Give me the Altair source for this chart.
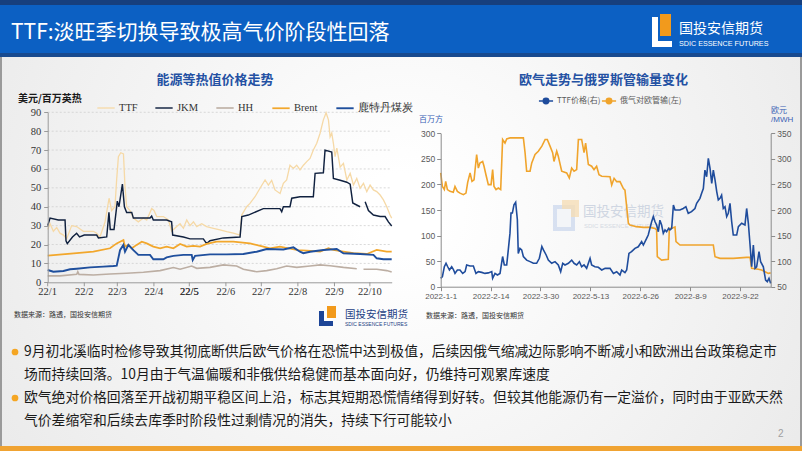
import altair as alt
import pandas as pd

W, H = 802, 451
BASE = pd.Timestamp("2022-01-01")
CJK = "Noto Sans CJK SC"
SERIF = "Liberation Serif"
SANS = "Liberation Sans"

# ---------------- left chart: 能源等热值价格走势 (USD/MMBtu), x = days since 2022-01-01
ttf_day = [0, 2, 4.8, 7.6, 10.4, 13.3, 16.1, 20.3, 24.5, 30.2, 38.7, 41.5, 44.3, 48.6, 52, 54.2, 57, 58.5,
           59.9, 61.9, 64.2, 65.5, 66.9, 69.7, 72.6, 76.8, 81.1, 83.9, 88.1, 90.1, 92.4, 98, 102.3, 105.1,
           109.3, 112.2, 115, 117.8, 120.6, 123.5, 126.3, 130.5, 134.7, 140.4, 146, 151.7, 157.3, 163,
           164.4, 168.6, 171.4, 175.7, 179.9, 184.2, 187, 189.8, 192.6, 196.9, 199.7, 202.5, 205.3, 208.2,
           211, 213.8, 216.7, 219.5, 222.3, 225.1, 228, 230.8, 233.6, 235.9, 237.9, 239.3, 240.7, 242.1,
           243.5, 245, 247.8, 250.6, 253.5, 256.3, 259.1, 261.9, 264.7, 267.6, 270.4, 273.2, 276, 278.8,
           281.7, 284.5, 287.3, 290.1, 291.5]
ttf_val = [28, 31, 27, 29, 26, 25, 23, 30, 29.5, 27, 27, 26, 24, 32, 44.5, 38, 40, 55,
           66.5, 68.6, 68, 50.6, 40, 38, 34, 32, 34, 33, 39, 38, 34.8, 34.8, 33, 27,
           29.5, 31, 28.6, 33, 30, 32, 29.5, 31, 29.5, 28.6, 27.7, 26.8, 26, 25,
           35.6, 40, 41.8, 45.3, 49.8, 54.2, 51.5, 54, 48.9, 47, 52.4, 54.2, 62, 60.3,
           62, 59.5, 62, 63.9, 65.6, 70, 73.6, 78.9, 86, 89.8, 86, 77, 79, 73.6,
           66.5, 71, 61, 63, 54.2, 57.7, 51.5, 55, 49.8, 52.4, 48, 51.5, 48.9, 48,
           46.2, 43.6, 40, 35.6, 34]

jkm_day = [0, 2, 9, 14.7, 15.5, 16.6, 21, 24.5, 27, 31, 41.5, 43, 50, 51.9, 53, 56.2, 59, 60.4, 63.3,
           65, 66.9, 71.2, 72.6, 86.7, 88.1, 89.5, 100.8, 105, 105.9, 115, 120.6, 131.9, 134.7, 137.5,
           148.8, 163, 164.5, 170, 182.7, 196.8, 198.3, 199.7, 205.3, 206.8, 213.8, 225.1, 226.6, 233.6,
           235, 240.7, 242.1, 247.8, 253.5, 256.3, 258.5, 264.7,
           269, 271.8, 276, 281.7, 285.9, 288.7, 291.5]
jkm_val = [30, 34, 33, 33, 22, 20.5, 24, 26, 24, 25, 25, 23.5, 24, 37, 28, 28, 43, 40, 52,
           40, 37, 37, 34, 34, 35, 33, 33, 32, 25, 24, 23, 23, 20.5, 22,
           23.5, 24, 34.8, 35.6, 39, 39, 37.4, 40, 40, 44.5, 45.3, 45.3, 57.7, 58,
           70, 69, 55, 54, 53, 52, 42, 40,
           42.7, 38, 35.6, 34.8, 34.8, 32, 29.8]
jkm_seg = [0] * 56 + [1] * 7

hh_day = [0, 10.4, 24.6, 25.5, 26.5, 38.7, 52.8, 66.9, 81.1, 95.2, 106.5, 112.2, 122, 126.3, 137.5,
          148.8, 160.1, 165.8, 177.1, 185.6, 194, 202.5, 211, 222.3, 230.8, 239.3, 250.6, 261.9,
          267.6, 278.8, 287.3, 291.5]
hh_val = [3.4, 3.4, 4.2, 5.6, 4.2, 3.9, 4.4, 4.8, 5.3, 6.2, 7.8, 6.9, 8.6, 7.4, 7.9,
          9.2, 8.6, 6.9, 5.6, 6.2, 7.2, 8.6, 7.9, 8.6, 9.2, 8.8, 7.9, 7.2,
          6.9, 6.9, 6.2, 5.5]
hh_seg = [0] * 28 + [1] * 4

brent_day = [0, 24.5, 38.7, 52.8, 58.5, 64.2, 65.5, 68.4, 71.2, 75.4, 79.7, 83.9, 89.5, 95.2, 100.8,
             106.5, 112.2, 117.8, 123.5, 129.1, 134.7, 143.2, 157.3, 171.4, 182.7, 188.4, 196.8, 211,
             219.5, 230.8, 237.9, 242.1, 250.6, 259.1, 270.4, 278.8, 287.3, 291.5]
brent_val = [14.1, 15.4, 16.2, 18, 20.6, 22.4, 18.9, 19.8, 18, 19.8, 21.5, 20.6, 18.9, 18, 18.9,
             18, 20.3, 18.9, 19.3, 18.9, 20.3, 21.5, 21.5, 20.6, 18.9, 18, 18.9, 17.1,
             16.8, 16.2, 18, 17.1, 16.2, 15.4, 15, 17.1, 16.2, 16.2]

coal_day = [0, 4.8, 13.3, 19, 24.6, 35.9, 47.2, 55.7, 58.5, 61.3, 64.1, 65.5, 68.4, 72.6, 76.8, 86.7,
            89.5, 98, 100.8, 106.5, 115, 122, 122.9, 124.9, 137.5, 151.7, 165.8, 177.1, 185.6, 199.7,
            208.2, 213.8, 216.6, 222.3, 233.6, 244.9, 250.6, 264.7, 276, 278.8, 284.5, 291.5]
coal_val = [6.5, 5.6, 6, 6.9, 7.2, 7.9, 8.3, 8.6, 8.8, 17, 19.8, 16.2, 19.8, 17, 14.5, 14.5,
            12.2, 12.2, 13.2, 14, 14.5, 14.5, 11.8, 14, 14.8, 14.8, 15, 16.2, 17.6, 17.4,
            18.5, 16.2, 15.4, 16.2, 17.1, 17.6, 15.4, 15, 14.5, 12.7, 12.2, 12.2]

left_names = ["TTF", "JKM", "HH", "Brent", "鹿特丹煤炭"]
left_colors = ["#f6d9a6", "#10213f", "#bcaea3", "#f2a72c", "#1f4f9d"]
left_widths = [1.3, 1.9, 1.4, 1.9, 1.9]
left_ticks = [0, 10, 20, 30, 40, 50, 60, 70, 80, 90]
left_x_labels = ["22/1", "22/2", "22/3", "22/4", "22/5", "22/6", "22/7", "22/8", "22/9", "22/10"]
left_x_label_day = [0, 31, 59, 90, 120, 151, 181, 212, 243, 273]

# ---------------- right chart: 欧气走势与俄罗斯管输量变化
pipe_day = [0, 1.5, 3.2, 4.4, 5.9, 8.2, 11.1, 12.6, 14.7, 17, 20, 22.3, 23.8, 25.9, 27.6, 29.4, 31.7,
            33.2, 34.6, 37, 38.2, 39.9, 42, 44.4, 45.8, 47, 48.8, 50.8, 52.9, 54.6, 56.7, 58.2, 61.1,
            72.9, 74.4, 75.8, 78.8, 80.3, 83.2, 86.1, 89.2, 92.1, 94, 96.4, 98.7, 99.9, 102.3, 103.7,
            106.7, 111.1, 113.4, 115.5, 117.6, 119.9, 121.4, 124.3, 126.4, 127.8, 130.2, 133.1, 135.2,
            137.5, 139.6, 142, 149.3, 150.8, 152.9, 155.2, 158.1, 161.1, 162.5, 165.5, 166.9, 172.8,
            178.7, 184.5, 189, 190.4, 191, 194.8, 200.7, 201.6, 203.7, 206.6, 207.5, 211, 228.6, 240.4,
            241.9, 246.3, 258, 269.8, 272.8, 274.2, 280.1, 283, 286, 288.9, 291]
pipe_val = [222.5, 196, 190, 206, 190, 186.5, 184.6, 196, 186.5, 183, 180, 183, 204, 222.5, 206, 209, 258.5,
            232, 242, 245, 235.6, 219, 199.6, 199.6, 229, 196, 190, 193, 190, 288, 281, 289, 291,
            291, 262, 225.8, 225.8, 242, 258.5, 265, 275, 288, 288, 275, 262, 245, 265, 255,
            225.8, 222.5, 212.7, 232, 225.8, 229, 288, 288, 262, 281, 239, 235.6, 229,
            235.6, 219, 216, 215, 199, 212, 205.4, 205.4, 192, 189, 124, 120.7, 117.4,
            116, 116, 114, 111, 58.7, 52, 53.5, 114, 114, 117, 88, 81.5, 81.5, 81.5,
            58.7, 55.4, 55.4, 57.4, 57.4, 35.9, 34, 32.6, 29.3, 26, 27]

ttfe_day = [0, 1.5, 3.2, 4.7, 6.2, 7.7, 9.7, 11.1, 12.6, 14.7, 17, 19.4, 21.5, 22.9, 25.9, 28.8, 31.1,
            33.2, 36.2, 39, 42, 45, 45.8, 47.9, 50, 52.3, 54.6, 56.1, 58.2, 59.6, 61.1, 62, 63.2, 64.6,
            66.1, 67.6, 68.4, 69.9, 71.4, 72.9, 75.8, 78.8, 81.7, 84.6, 87, 89.2, 90.6, 93, 94.9, 97.9,
            100.8, 103.7, 105.8, 107.6, 109.6, 112.6, 115.5, 117.6, 119.9, 122.3, 124.3, 126.4, 128.7,
            131.7, 133.1, 136, 139, 142, 145, 149.3, 152.3, 155.2, 158.1, 159.6, 162.5, 164, 166, 168.3,
            171.3, 174.2, 177.2, 178.7, 181.6, 183, 184.5, 186, 187.5, 189, 190.4, 191.9, 193.3, 194.8,
            196.3, 197.8, 199.2, 201, 202.2, 203.7, 205.2, 206.6, 210.9, 213.9, 216.2, 218.3, 221.2,
            224.2, 225.7, 228.6, 230.1, 231.6, 233, 234.5, 236, 237.5, 239, 240.4, 241.9, 243.4, 244.8,
            246.3, 247.7, 249.2, 250.7, 252.2, 253.6, 255.1, 256.6, 258, 261, 262.5, 265.4, 268.3,
            269.8, 271.3, 272.8, 274.2, 275.7, 277.2, 278.6, 280.7, 282.1, 284.5, 286.5, 288, 289.5, 291]
ttfe_val = [66.4, 69.6, 89, 95.8, 89, 82.7, 89, 84, 76, 82.7, 82.7, 76, 79.5, 92.5, 90.6, 90.6, 76,
            79.5, 78, 76, 77, 79.5, 66.4, 76, 73, 76, 109, 92.5, 92.5, 122, 154.7, 194, 194, 210,
            215, 181, 115, 125, 122, 109, 102, 99, 95.8, 95.8, 105.6, 128.5, 122, 112, 102, 95.8,
            99, 92.5, 79.5, 95.8, 92.5, 95.8, 102, 95.8, 92.5, 99, 89, 92.5, 86,
            105.6, 92.5, 89, 88, 82.7, 86, 85.9, 76, 79.3, 72.8, 82.6, 77.4, 82.6, 115, 118.5,
            125, 128, 138, 131.5, 144.6, 151, 164, 177, 187, 177, 170.7, 157.6, 180, 170.7,
            154.3, 161, 157.6, 164, 161, 164, 209.8, 200, 200, 203, 206.5, 193.5, 196.7,
            203, 213, 222.8, 232.6, 242, 278, 265, 301, 281.5, 252, 278, 258.7, 236, 219.6,
            222.8, 229, 203, 206.5, 187, 193.5, 213, 177, 151, 151, 167.4, 174, 170.7,
            203, 174, 131.5, 89, 131.5, 86, 89, 118.5, 99, 89, 63, 59.8, 66.3, 56.5]

right_x_ticks = [(1, 1), (2, 14), (3, 30), (5, 13), (6, 26), (8, 9), (9, 22)]
pipe_ticks = [0, 50, 100, 150, 200, 250, 300]
ttfe_ticks = [50, 100, 150, 200, 250, 300, 350]

bullet_lines = [
    "9月初北溪临时检修导致其彻底断供后欧气价格在恐慌中达到极值，后续因俄气缩减边际影响不断减小和欧洲出台政策稳定市",
    "场而持续回落。10月由于气温偏暖和非俄供给稳健而基本面向好，仍维持可观累库速度",
    "欧气绝对价格回落至开战初期平稳区间上沿，标志其短期恐慌情绪得到好转。但较其他能源仍有一定溢价，同时由于亚欧天然",
    "气价差缩窄和后续去库季时阶段性过剩情况的消失，持续下行可能较小",
]


def to_df(days, vals, name, seg=None):
    d = pd.DataFrame({"day": days, "value": vals})
    d["series"] = name
    d["seg"] = seg if seg is not None else 0
    d["date"] = BASE + pd.to_timedelta(d["day"], unit="D")
    return d.drop(columns="day")


left_df = pd.concat([
    to_df(ttf_day, ttf_val, "TTF"),
    to_df(jkm_day, jkm_val, "JKM", jkm_seg),
    to_df(hh_day, hh_val, "HH", hh_seg),
    to_df(brent_day, brent_val, "Brent"),
    to_df(coal_day, coal_val, "鹿特丹煤炭"),
], ignore_index=True)
left_df["key"] = left_df["series"] + "_" + left_df["seg"].astype(str)

pipe_df = to_df(pipe_day, pipe_val, "俄气对欧管输(左)")
ttfe_df = to_df(ttfe_day, ttfe_val, "TTF价格(右)")
grid_df = pd.DataFrame({"value": left_ticks[1:]})
left_xlab_df = pd.DataFrame({"day": left_x_label_day, "label": left_x_labels})

ONE = alt.Data(values=[{}])


def text(t, x, y, size, color, font=CJK, weight="normal", align="left", baseline="middle", **kw):
    return alt.Chart(ONE).mark_text(text=t, fontSize=size, color=color, font=font, fontWeight=weight,
                                    align=align, baseline=baseline, **kw).encode(
        x=alt.value(x), y=alt.value(y))


def rect(x1, y1, x2, y2, color, **kw):
    return alt.Chart(ONE).mark_rect(color=color, **kw).encode(
        x=alt.value(x1), x2=alt.value(x2), y=alt.value(y1), y2=alt.value(y2))


# ---------------- left chart scales
L_X0, L_X1, L_Y0, L_Y1 = 47.7, 391.7, 282.3, 112.3
L_DAYS = 291.5
lx_scale = alt.Scale(domain=[alt.DateTime(year=2022, month=1, date=1),
                             alt.DateTime(year=2022, month=10, date=19, hours=12)],
                     range=[L_X0, L_X1], nice=False)
lday_scale = alt.Scale(domain=[0, L_DAYS], range=[L_X0, L_X1], nice=False, zero=False)
ly_scale = alt.Scale(domain=[0, 90], range=[L_Y0, L_Y1], nice=False, zero=False)

left_grid = alt.Chart(grid_df).mark_rule(color="#cfcfcf", strokeDash=[2, 2], strokeWidth=0.8).encode(
    y=alt.Y("value:Q", scale=ly_scale, axis=None),
    x=alt.value(L_X0), x2=alt.value(L_X1))

left_xlabels = alt.Chart(left_xlab_df).mark_text(
    font=SERIF, fontSize=10.5, color="#333333", baseline="top", align="center").encode(
    x=alt.X("day:Q", scale=lday_scale, axis=None),
    y=alt.value(L_Y0 + 5),
    text="label:N")

# the May label is also drawn on its own, through the same day scale, in case the shared one is dropped
may_label = alt.Chart(left_xlab_df.iloc[[4]]).mark_text(
    font=SERIF, fontSize=10.5, color="#333333", baseline="top", align="center").encode(
    x=alt.X("day:Q", scale=lday_scale, axis=None),
    y=alt.value(L_Y0 + 5),
    text="label:N")

left_xticks = alt.Chart(left_xlab_df).mark_rule(color="#9a9a9a", strokeWidth=1).encode(
    x=alt.X("day:Q", scale=lday_scale, axis=None),
    y=alt.value(L_Y0), y2=alt.value(L_Y0 + 4))

left_lines = alt.Chart(left_df).mark_line(interpolate="linear").encode(
    x=alt.X("date:T", scale=lx_scale, title=None,
            axis=alt.Axis(orient="bottom", offset=L_Y0 - H, zindex=1, labels=False, ticks=False,
                          domainColor="#9a9a9a", grid=False)),
    y=alt.Y("value:Q", scale=ly_scale, title=None,
            axis=alt.Axis(orient="left", offset=-L_X0, values=left_ticks, labelFont=SERIF, zindex=1,
                          labelFontSize=10.5, labelColor="#333", domainColor="#9a9a9a",
                          labelOverlap=False, labelFlush=False,
                          tickColor="#9a9a9a", tickSize=4, labelPadding=3, grid=False)),
    color=alt.Color("series:N", sort=left_names,
                    scale=alt.Scale(domain=left_names, range=left_colors),
                    legend=alt.Legend(orient="none", legendX=96, legendY=98, direction="horizontal",
                                      columns=5, title=None, symbolType="stroke", symbolSize=300,
                                      symbolStrokeWidth=2, labelFont=SERIF, labelFontSize=10.5,
                                      labelColor="#333", columnPadding=14, labelOffset=3)),
    strokeWidth=alt.StrokeWidth("series:N", scale=alt.Scale(domain=left_names, range=left_widths),
                                legend=None),
    detail="key:N",
    order=alt.Order("date:T"),
)

# ---------------- right chart scales
R_X0, R_X1, R_Y0, R_Y1 = 440.7, 770.7, 286.7, 133.3
rx_scale = alt.Scale(domain=[alt.DateTime(year=2022, month=1, date=1),
                             alt.DateTime(year=2022, month=10, date=19)],
                     range=[R_X0, R_X1], nice=False)
rx_axis = alt.Axis(orient="bottom", offset=R_Y0 - H, zindex=1, labelOverlap=False, labelFlush=False,
                   values=[alt.DateTime(year=2022, month=m, date=d) for m, d in right_x_ticks],
                   format="%Y-%-m-%-d", labelFont=SANS, labelFontSize=8, labelColor="#595959",
                   domainColor="#8c8c8c", tickColor="#8c8c8c", tickSize=4, labelPadding=2, grid=False)

SYM = "M-1,0L1,0M0.38,0A0.38,0.38,0,1,1,-0.38,0A0.38,0.38,0,1,1,0.38,0Z"

pipe_line = alt.Chart(pipe_df).mark_line(strokeWidth=1.6).encode(
    x=alt.X("date:T", scale=rx_scale, title=None, axis=rx_axis),
    y=alt.Y("value:Q", scale=alt.Scale(domain=[0, 300], range=[R_Y0, R_Y1], nice=False), title=None,
            axis=alt.Axis(orient="left", offset=-R_X0, values=pipe_ticks, labelFont=SANS, zindex=1,
                          labelFontSize=8.5, labelColor="#595959", domainColor="#8c8c8c",
                          labelOverlap=False, labelFlush=False,
                          tickColor="#8c8c8c", tickSize=4, labelPadding=2, grid=False)),
    color=alt.Color("series:N", scale=alt.Scale(domain=["俄气对欧管输(左)"], range=["#f0a42c"]),
                    legend=alt.Legend(orient="none", legendX=601, legendY=93, title=None,
                                      symbolType=SYM, symbolSize=200, symbolStrokeWidth=1.6,
                                      symbolFillColor="#f0a42c", labelFont=CJK, labelFontSize=8,
                                      labelColor="#595959", labelOffset=3)),
    order=alt.Order("date:T"),
)

ttfe_line = alt.Chart(ttfe_df).mark_line(strokeWidth=1.6).encode(
    x=alt.X("date:T", scale=rx_scale, axis=None),
    y=alt.Y("value:Q", scale=alt.Scale(domain=[50, 350], range=[R_Y0, R_Y1], nice=False, zero=False),
            title=None,
            axis=alt.Axis(orient="right", offset=R_X1 - W, values=ttfe_ticks, labelFont=SANS, zindex=1,
                          labelFontSize=8.5, labelColor="#595959", domainColor="#8c8c8c",
                          labelOverlap=False, labelFlush=False,
                          tickColor="#8c8c8c", tickSize=4, labelPadding=2, grid=False)),
    color=alt.Color("series:N", scale=alt.Scale(domain=["TTF价格(右)"], range=["#1f4c9c"]),
                    legend=alt.Legend(orient="none", legendX=538, legendY=93, title=None,
                                      symbolType=SYM, symbolSize=200, symbolStrokeWidth=1.6,
                                      symbolFillColor="#1f4c9c", labelFont=CJK, labelFontSize=8,
                                      labelColor="#595959", labelOffset=3)),
    order=alt.Order("date:T"),
)

bg = alt.Chart(ONE).mark_rect(fill=alt.Gradient(
    gradient="radial", x1=0.5, y1=0.45, r1=0.05, x2=0.5, y2=0.45, r2=0.75,
    stops=[alt.GradientStop(color="#ffffff", offset=0), alt.GradientStop(color="#e4e4e4", offset=1)])
).encode(x=alt.value(0), x2=alt.value(W), y=alt.value(56), y2=alt.value(H))

layers = [
    bg,
    rect(0, 0, W, 57, "#0c60c3"),
    rect(0, 0, W, 5, "#173f7d"),
    rect(0, 53, W, 57, "#184a8f"),
    rect(0, 57, 2, 446, "#9a9a9a"),
    rect(800, 57, W, 446, "#9a9a9a"),
    rect(0, 446, W, H, "#f0a332"),
    text("TTF:淡旺季切换导致极高气价阶段性回落", 11, 33, 21, "#ffffff"),
    # header logo
    rect(652, 17, 658, 47, "#ffffff"),
    rect(652, 41, 672, 47, "#ffffff"),
    rect(660, 14, 671, 36, "#f29a1c"),
    text("国投安信期货", 679, 29, 14, "#ffffff"),
    text("SDIC ESSENCE FUTURES", 679, 44, 7.2, "#ffffff", font=SANS),
    # left chart texts
    text("能源等热值价格走势", 215, 80, 13, "#2451a3", weight="bold", align="center"),
    text("美元/百万英热", 18, 98.5, 10, "#1a1a1a", weight="bold"),
    left_grid,
    left_lines,
    left_xticks,
    # right chart texts
    text("欧气走势与俄罗斯管输量变化", 603.5, 80, 13, "#2451a3", weight="bold", align="center"),
    text("百万方", 431, 120, 8, "#3a5fb5", align="center"),
    text("欧元", 771, 111, 8, "#3a5fb5"),
    text("/MWH", 771, 120, 8, "#3a5fb5", font=SANS),
    # watermark
    rect(553, 205, 575, 231, "#c9d6ec", opacity=0.7),
    rect(562, 200, 579, 217, "#f5ddb6", opacity=0.8),
    rect(557, 209, 571, 227, "#f3f5f8"),
    text("国投安信期货", 583, 212, 13.5, "#cfd6e2"),
    text("SDIC ESSENCE FUTURES", 584, 226, 6, "#d5dae3", font=SANS),
    pipe_line,
    ttfe_line,
    # source notes and logo
    text("数据来源：路透，国投安信期货", 14, 315, 7, "#333333"),
    text("数据来源：路透，国投安信期货", 426, 316, 7, "#333333"),
    rect(319, 311, 333, 326, "#1d4597"),
    rect(324, 311, 333, 321, "#ffffff"),
    rect(327, 306, 336, 318, "#f29a1c"),
    text("国投安信期货", 345, 315, 10.5, "#1d3f85"),
    text("SDIC ESSENCE FUTURES", 345, 324, 5, "#1d3f85", font=SANS),
    # bullets
    alt.Chart(ONE).mark_point(filled=True, size=45, color="#f5a623", opacity=1).encode(
        x=alt.value(15), y=alt.value(352)),
    alt.Chart(ONE).mark_point(filled=True, size=45, color="#f5a623", opacity=1).encode(
        x=alt.value(15), y=alt.value(398)),
]
for ln, yy in zip(bullet_lines, [352, 375, 398, 421]):
    layers.append(text(ln, 24, yy, 13.8, "#1a1a1a"))
layers.append(text("2", 778, 434, 10, "#a0a0a0", font=SANS))
layers.append(left_xlabels)
layers.append(may_label)

chart = alt.layer(*layers).resolve_scale(
    x="independent", y="independent", color="independent", strokeWidth="independent"
).properties(
    width=W, height=H, padding=0, autosize=alt.AutoSizeParams(type="none"), background="#ffffff"
).configure_view(stroke=None)

chart.save("out.html", embed_options={"renderer": "svg", "actions": False})
